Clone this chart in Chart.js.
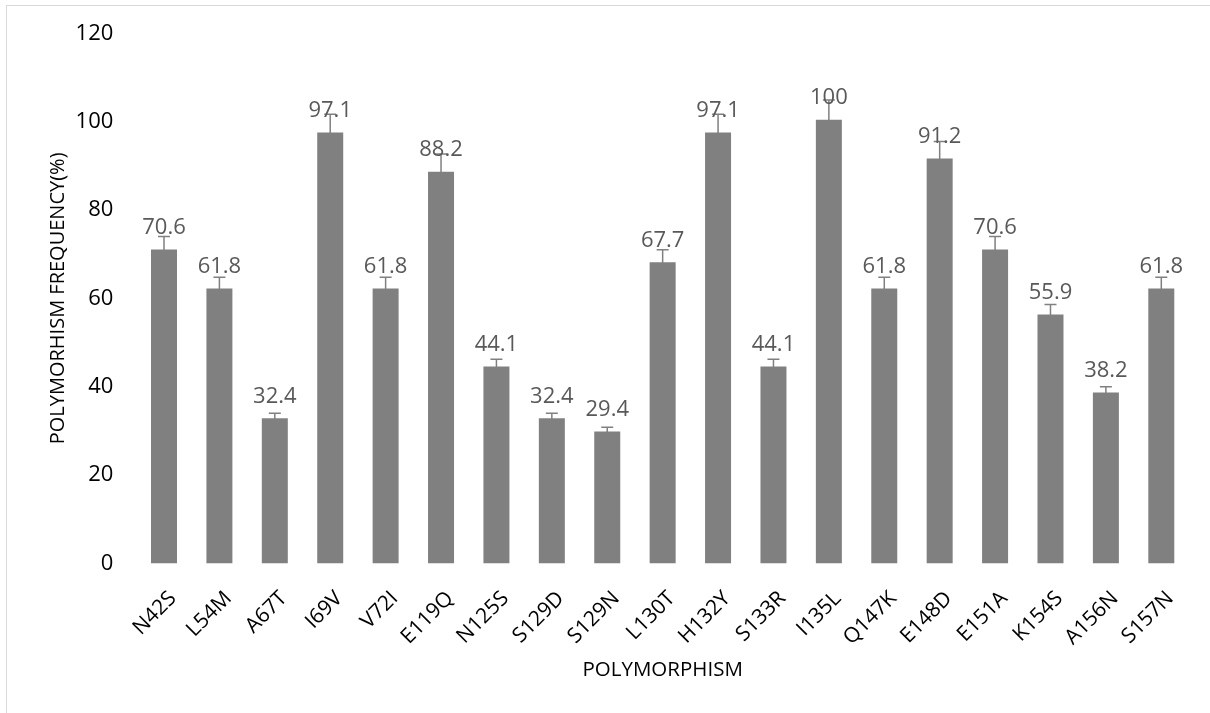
<!DOCTYPE html>
<html><head><meta charset="utf-8">
<script src="https://cdn.jsdelivr.net/npm/chart.js@4.4.1/dist/chart.umd.min.js"></script>
<style>
html,body{margin:0;padding:0;background:#fff;width:1210px;height:713px;overflow:hidden}
#frame{position:absolute;left:6px;top:5px;width:1220px;height:730px;border:1px solid #d9d9d9;box-sizing:border-box}
#wrap{position:absolute;left:0;top:0;width:1210px;height:713px}
</style></head><body>
<div id="frame"></div>
<div id="wrap"><canvas id="c" width="1210" height="713"></canvas></div>
<script>
const categories = ["N42S","L54M","A67T","I69V","V72I","E119Q","N125S","S129D","S129N","L130T","H132Y","S133R","I135L","Q147K","E148D","E151A","K154S","A156N","S157N"];
const frequencies = [70.6,61.8,32.4,97.1,61.8,88.2,44.1,32.4,29.4,67.7,97.1,44.1,100,61.8,91.2,70.6,55.9,38.2,61.8];
const errorMargins = [3.4,3.0,1.6,4.6,3.0,4.5,2.1,1.6,1.4,3.3,4.6,2.1,4.9,3.0,4.3,3.4,2.7,1.8,3.0];
const yTicks = [0,20,40,60,80,100,120];

const FONT = '"Open Sans", "Noto Sans", sans-serif';

const errorAndLabelPlugin = {
  id: 'errorAndLabel',
  afterDatasetsDraw(chart) {
    const ctx = chart.ctx;
    const y = chart.scales.y;
    const meta = chart.getDatasetMeta(0);
    ctx.save();
    ctx.strokeStyle = '#808080';
    ctx.lineWidth = 1.5;
    meta.data.forEach((bar, i) => {
      const v = frequencies[i], e = errorMargins[i];
      const top = y.getPixelForValue(v + e);
      const base = y.getPixelForValue(v);
      ctx.beginPath();
      ctx.moveTo(bar.x, base); ctx.lineTo(bar.x, top);
      ctx.moveTo(bar.x - 6, top); ctx.lineTo(bar.x + 6, top);
      ctx.stroke();
    });
    ctx.fillStyle = '#595959';
    ctx.font = '22px ' + FONT;
    ctx.textAlign = 'center';
    ctx.textBaseline = 'alphabetic';
    meta.data.forEach((bar, i) => {
      ctx.fillText(String(frequencies[i]), bar.x, y.getPixelForValue(frequencies[i]) - 17.5);
    });
    ctx.restore();
  }
};

new Chart(document.getElementById('c'), {
  type: 'bar',
  data: {
    labels: categories,
    datasets: [{
      data: frequencies,
      backgroundColor: '#808080',
      borderWidth: 0,
      inflateAmount: 2,
      categoryPercentage: 1,
      barPercentage: 0.397
    }]
  },
  options: {
    responsive: false,
    animation: false,
    devicePixelRatio: 1,
    layout: { padding: { left: 0, right: 21, top: 33.4, bottom: 0 } },
    plugins: { legend: { display: false }, tooltip: { enabled: false } },
    scales: {
      x: {
        grid: { display: false },
        border: { display: false },
        ticks: { color: '#000', font: { family: FONT, size: 21 }, maxRotation: 45, minRotation: 45, padding: 15, labelOffset: 9, autoSkip: false },
        title: { display: true, text: 'POLYMORPHISM', color: '#000', font: { family: FONT, size: 20.5 }, padding: { top: 4, bottom: 30.7 } },
        afterFit: s => { s.height = 149.7; }
      },
      y: {
        min: 0, max: 120,
        grid: { display: false },
        border: { display: false },
        afterBuildTicks: s => { s.ticks = yTicks.map(v => ({ value: v })); },
        ticks: { color: '#000', font: { family: FONT, size: 22 }, padding: 15 },
        title: { display: true, text: 'POLYMORHISM FREQUENCY(%)', color: '#000', font: { family: FONT, size: 20 }, padding: { top: 46, bottom: 0 } },
        afterFit: s => { s.width = 136.3; }
      }
    }
  },
  plugins: [errorAndLabelPlugin]
});
</script>
</body></html>
